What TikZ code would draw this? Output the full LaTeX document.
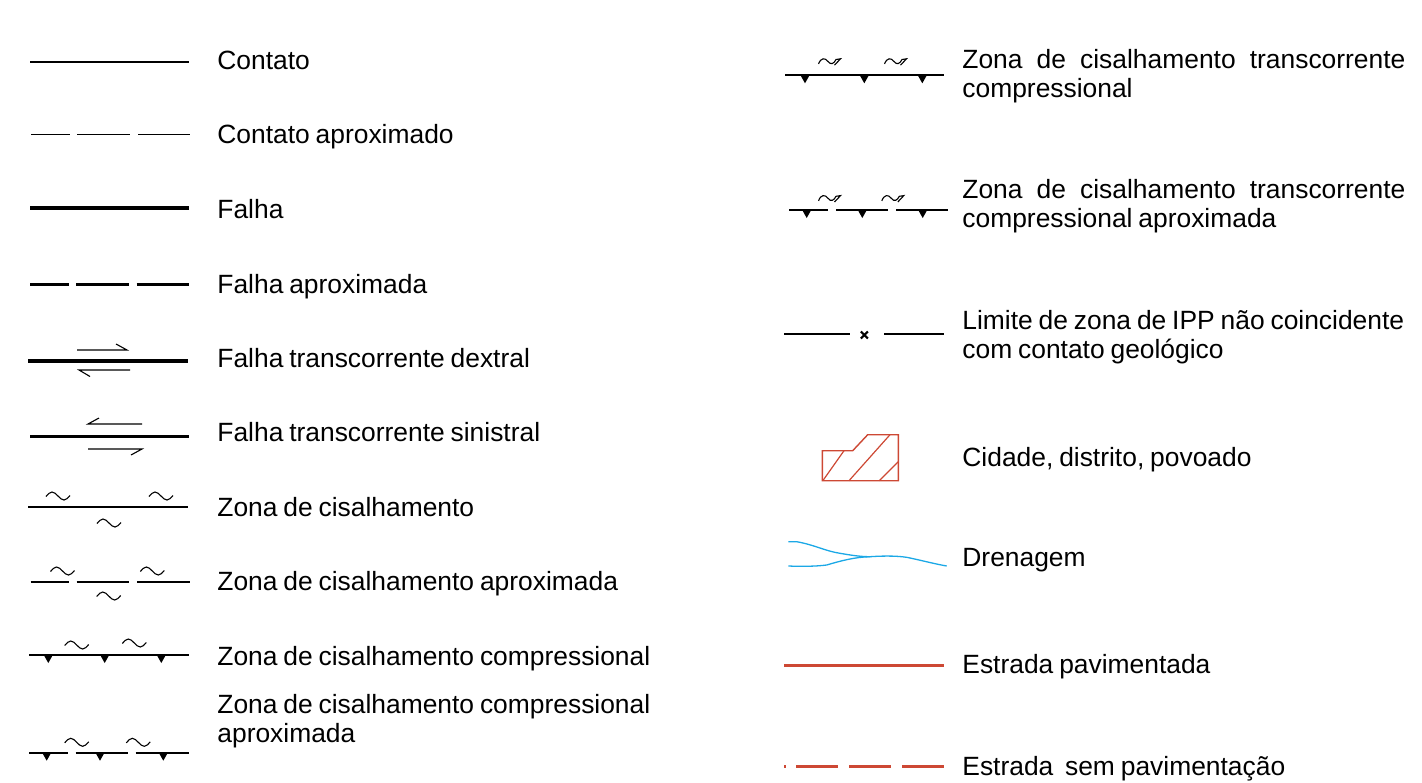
\documentclass[tikz,border=0pt]{standalone}
\usepackage{fontspec}
\setmainfont{Liberation Sans}[WordSpace=0.8]
\definecolor{roadred}{RGB}{205,72,52}
\definecolor{riverblue}{RGB}{27,168,230}
\begin{document}
\begin{tikzpicture}[x=0.5pt,y=-0.5pt,
  lbl/.style={anchor=base west,inner sep=0pt,font=\fontsize{13.2}{14.5}\selectfont},
  lbl2/.style={lbl,align=left},
  cline/.style={line width=0.7pt},
  fline/.style={line width=1.6pt},
  zline/.style={line width=1.15pt},
  aline/.style={line width=0.55pt},
  road/.style={roadred,line width=1.5pt},
  tld/.pic={\draw[aline] (-12,0.5) sin (-6,-4) cos (0,0) sin (6,4) cos (12,-0.5);},
  htld/.pic={\draw[aline,line join=miter] (-11.5,2.5) .. controls (-9,-4) and (-5,-4) .. (-2,0) .. controls (1,4) and (4,2) .. (6,-2) -- (10.5,-2.7) -- (4.5,3.7);},
  tri/.pic={\fill (-4.5,0) -- (4.5,0) -- (0,8) -- cycle;}
]
\useasboundingbox (0,0) rectangle (1422,782);
% ---------- left column symbols ----------
\draw[cline] (30,62) -- (189,62);
\draw[cline] (31,134.3) -- (70,134.3) (77.3,134.3) -- (130.3,134.3) (138,134.3) -- (190,134.3);
\draw[fline] (30,208) -- (189,208);
\draw[fline] (30,284.3) -- (68.7,284.3) (76.3,284.3) -- (129,284.3) (136.7,284.3) -- (189,284.3);
% dextral
\draw[fline] (28,361) -- (188,361);
\draw[aline] (77,350) -- (127,350) -- (116,344);
\draw[aline] (90,376.5) -- (79,370) -- (130,370);
% sinistral
\draw[fline] (30,436.7) -- (189,436.7);
\draw[aline] (99,418) -- (88,424) -- (142,424);
\draw[aline] (88,449) -- (142,449) -- (131,455);
% shear zone
\draw[zline] (28,507) -- (188,507);
\pic at (58,496) {tld}; \pic at (161,496) {tld}; \pic at (109,523) {tld};
% shear zone approx
\draw[zline] (30.7,582) -- (68.7,582) (76.7,582) -- (129.3,582) (137.3,582) -- (190,582);
\pic at (62.5,571) {tld}; \pic at (152.3,571) {tld}; \pic at (108.7,596) {tld};
% compressional
\draw[zline] (29,655) -- (189,655);
\pic at (48.3,655) {tri}; \pic at (104.7,655) {tri}; \pic at (161.3,655) {tri};
\pic at (76.7,645) {tld}; \pic at (134.3,643) {tld};
% compressional approx
\draw[zline] (29.3,752.7) -- (67.7,752.7) (75.7,752.7) -- (128.3,752.7) (135.7,752.7) -- (189,752.7);
\pic at (46.7,752.7) {tri}; \pic at (100,752.7) {tri}; \pic at (163.3,752.7) {tri};
\pic at (76.7,742.3) {tld}; \pic at (138.3,742.3) {tld};
% ---------- left column labels ----------
\node[lbl] (l1) at (217,69) {Contato};
\node[lbl] (l2) at (217,143) {Contato aproximado};
\node[lbl] (l3) at (217,218) {Falha};
\node[lbl] (l4) at (217,293) {Falha aproximada};
\node[lbl] (l5) at (217,367) {Falha transcorrente dextral};
\node[lbl] (l6) at (217,441) {Falha transcorrente sinistral};
\node[lbl] (l7) at (217,516) {Zona de cisalhamento};
\node[lbl] (l8) at (217,590) {Zona de cisalhamento aproximada};
\node[lbl] (l9) at (217,665) {Zona de cisalhamento compressional};
\node[lbl2] (l10) at (217,742) {Zona de cisalhamento compressional\\aproximada};
% ---------- right column symbols ----------
\draw[zline] (785,75.3) -- (944.3,75.3);
\pic at (805,75.3) {tri}; \pic at (864.3,75.3) {tri}; \pic at (922.3,75.3) {tri};
\pic at (830,61.5) {htld}; \pic at (896,61.5) {htld};
\draw[zline] (789.3,210) -- (827.7,210) (836,210) -- (888.3,210) (896,210) -- (948.3,210);
\pic at (806.7,210) {tri}; \pic at (862.3,210) {tri}; \pic at (922.7,210) {tri};
\pic at (830,198.3) {htld}; \pic at (893.3,198.3) {htld};
\draw[cline] (784.3,334) -- (850,334) (884.3,334) -- (944.3,334);
\draw[line width=1.1pt] (860.8,331.5) -- (867.8,338.5) (860.8,338.5) -- (867.8,331.5);
% city
\draw[roadred,line width=0.7pt] (822.3,480.7) -- (822.3,450.7) -- (852.7,450.7) -- (867.7,434.7) -- (898.3,434.7) -- (898.3,480.7) -- cycle;
\draw[roadred,line width=0.6pt] (823.3,480) -- (844,450.7) (849,480.7) -- (890,434.7) (879.3,480.7) -- (898.3,461.7);
% drainage
\draw[riverblue,line width=0.65pt] (788.3,541.7) -- (796.7,541.7) .. controls (815,545) and (825,551) .. (840,553.3) .. controls (850,555) and (860,556.7) .. (870,556.7);
\draw[riverblue,line width=0.65pt] (788.3,566) .. controls (800,566.5) and (815,566.5) .. (826.7,565) .. controls (840,561) and (855,557) .. (870,556.7);
\draw[riverblue,line width=0.65pt] (870,556.7) .. controls (880,556) and (895,555.5) .. (906.7,557.3) .. controls (920,560) and (935,564) .. (946.7,566);
% roads
\draw[road] (784.3,665) -- (944.3,665);
\draw[road] (784.3,766) -- (785.7,766) (796,766) -- (837.7,766) (849.3,766) -- (890.7,766) (902.3,766) -- (944,766);
% ---------- right column labels ----------
\node[lbl2] (r1) at (962,97) {\hbox to 221.5pt{Zona\hfill de\hfill cisalhamento\hfill transcorrente}\\compressional};
\node[lbl2] (r2) at (962,227) {\hbox to 221.5pt{Zona\hfill de\hfill cisalhamento\hfill transcorrente}\\compressional aproximada};
\node[lbl2] (r3) at (962,358) {Limite de zona de IPP não coincidente\\com contato geológico};
\node[lbl] (r4) at (962,466) {Cidade, distrito, povoado};
\node[lbl] (r5) at (962,566) {Drenagem};
\node[lbl] (r6) at (962,673) {Estrada pavimentada};
\node[lbl] (r7) at (962,775) {Estrada\ \ sem pavimentação};
\end{tikzpicture}
\end{document}
